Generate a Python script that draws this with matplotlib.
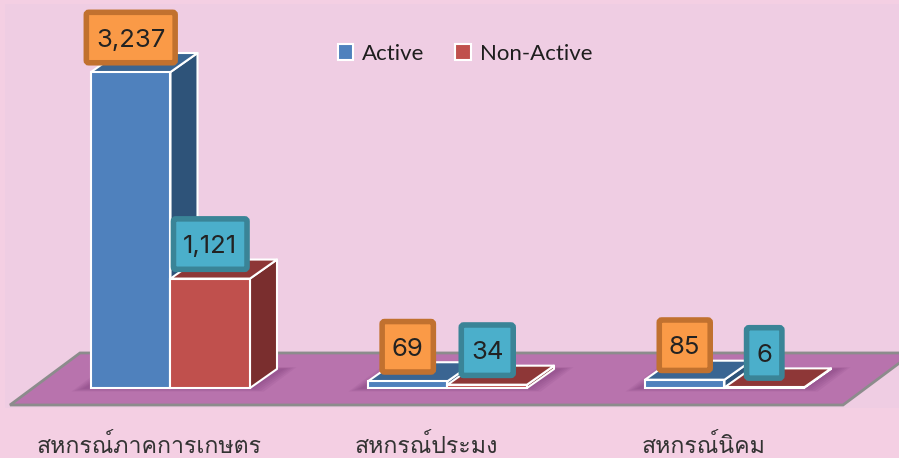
import matplotlib
matplotlib.use("Agg")
import matplotlib.pyplot as plt
from matplotlib.patches import Polygon, Rectangle, Patch, FancyBboxPatch
from matplotlib.transforms import IdentityTransform
from matplotlib import font_manager
from matplotlib.ft2font import FT2Font

# ---------------- data ----------------
categories = ["สหกรณ์ภาคการเกษตร", "สหกรณ์ประมง", "สหกรณ์นิคม"]
series_names = ["Active", "Non-Active"]
active = [3237, 69, 85]
non_active = [1121, 34, 6]

# ---------------- fonts ----------------
def find_font(ch):
    preferred = []
    others = []
    for f in font_manager.fontManager.ttflist:
        try:
            ft = FT2Font(f.fname)
            if ord(ch) in ft.get_charmap():
                if "Thai" in f.name or "Sarabun" in f.name or "Loma" in f.name:
                    preferred.append(f.name)
                else:
                    others.append(f.name)
        except Exception:
            pass
    if preferred:
        return preferred[0]
    if others:
        return others[0]
    return None

thai_font = find_font("ส")
thai_family = [thai_font, "DejaVu Sans"] if thai_font else ["DejaVu Sans"]
latin_family = ["Lato", "DejaVu Sans"]
num_family = ["Inter", "Lato", "DejaVu Sans"]
plt.rcParams["font.family"] = latin_family

# ---------------- styles ----------------
outer_bg = "#F4CFE3"
inner_bg = "#EFCDE3"
floor_col = "#B873AD"
floor_edge = "#8C8C8C"
front_cols = ["#4F81BD", "#C0504D"]
side_cols = ["#2E5379", "#7A2E2E"]
top_cols = ["#3A6592", "#8E3737"]
box_fc = ["#FA9A47", "#4BAFCB"]
box_ec = ["#C1712F", "#3A8497"]

W, H = 899, 458
DPI = 100
fig = plt.figure(figsize=(W / DPI, H / DPI), dpi=DPI, facecolor=outer_bg)
fig.patches.append(Rectangle((5 / W, 1 - 408 / H), 1 - 5 / W, (408 - 4) / H,
                             transform=fig.transFigure, facecolor=inner_bg,
                             edgecolor="none", zorder=-10))
ax = fig.add_axes([0, 0, 1, 1])
ax.set_zorder(1)
ax.set_facecolor("none")
ax.patch.set_alpha(0)
ax.set_xlim(-0.6155, 2.630)
ax.set_ylim(-717, 3975)
ax.axis("off")

bar_w = 0.287
dx = 0.0975       # depth offset (x units)
dy = 195.0        # depth offset (y units)

# floor
floor = Polygon([(-0.5794, -174), (2.428, -174), (2.680, 359), (-0.3267, 359)],
                closed=True, facecolor=floor_col, edgecolor=floor_edge, lw=2,
                zorder=1)
ax.add_patch(floor)

# soft shadows under bar groups
for gi in range(len(categories)):
    x0 = gi - bar_w
    x1 = gi + bar_w
    for k in range(5):
        e = 0.010 * (k + 1)
        ey = 12 * (k + 1)
        shadow = Polygon([(x0 - e - 0.02, -ey * 0.6), (x1 + e, -ey * 0.6),
                          (x1 + dx + e + 0.02, dy + ey * 0.3), (x0 + dx - e, dy + ey * 0.3)],
                         closed=True, facecolor="#6E2F6C", edgecolor="none",
                         alpha=0.09, zorder=1.5)
        ax.add_patch(shadow)

values = [active, non_active]
xs = list(range(len(categories)))
for gi in xs:
    for si in range(2):
        v = values[si][gi]
        xc = gi + (si - 0.5) * bar_w
        z = 3 + si
        left = xc - bar_w / 2
        right = xc + bar_w / 2
        side = Polygon([(right, 0), (right + dx, dy), (right + dx, v + dy), (right, v)],
                       closed=True, facecolor=side_cols[si], edgecolor="white",
                       lw=1.5, zorder=z, joinstyle="round")
        top = Polygon([(left, v), (right, v), (right + dx, v + dy), (left + dx, v + dy)],
                      closed=True, facecolor=top_cols[si], edgecolor="white",
                      lw=1.5, zorder=z, joinstyle="round")
        ax.add_patch(side)
        ax.add_patch(top)
        ax.bar(xc, v, width=bar_w, color=front_cols[si], edgecolor="white",
               linewidth=1.5, zorder=z + 0.1)

# value label boxes (box sized in pixels around the text)
renderer = fig.canvas.get_renderer()
gap_px = 6.5
box_h = 56.0
pad_x = 12.5
border_lw = 4.0
inset = border_lw * DPI / 72 / 2
for gi in xs:
    for si in range(2):
        v = values[si][gi]
        xc = gi + (si - 0.5) * bar_w
        px, py = ax.transData.transform((xc, v))
        cy = py + gap_px + box_h / 2
        t = ax.text(px, cy, f"{v:,}", transform=IdentityTransform(),
                    ha="center", va="center_baseline", fontsize=18.5,
                    color="#222222", zorder=11, family=num_family)
        bb = t.get_window_extent(renderer)
        bw = bb.width + 2 * pad_x
        box = FancyBboxPatch((px - bw / 2 + inset, cy - box_h / 2 + inset),
                             bw - 2 * inset, box_h - 2 * inset,
                             boxstyle="round,pad=0,rounding_size=2.5",
                             transform=IdentityTransform(), facecolor=box_fc[si],
                             edgecolor=box_ec[si], lw=border_lw, zorder=10)
        ax.add_patch(box)

# category labels
for gi, name in enumerate(categories):
    ax.text(gi - 0.076, -590, name, ha="center", va="center", fontsize=16.7,
            color="#333333", family=thai_family)

# legend
handles = [Patch(facecolor=front_cols[i], edgecolor="white", lw=1.5, label=series_names[i])
           for i in range(2)]
fig.legend(handles=handles, loc="center", bbox_to_anchor=(465 / W, 1 - 54 / H),
           ncol=2, frameon=False, fontsize=16, handlelength=0.7, handleheight=0.7,
           handletextpad=0.4, columnspacing=1.4, labelcolor="#1E1E1E")

fig.savefig("out.png", dpi=DPI, facecolor=outer_bg)
